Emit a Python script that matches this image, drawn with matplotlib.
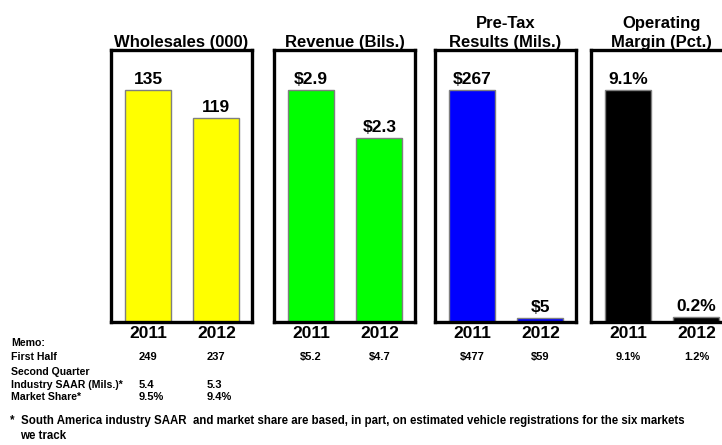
import matplotlib.pyplot as plt

plt.rcParams['font.family'] = ['Liberation Sans', 'DejaVu Sans']
plt.rcParams['font.weight'] = 'bold'

years = ['2011', '2012']
titles = ['Wholesales (000)', 'Revenue (Bils.)', 'Pre-Tax\nResults (Mils.)',
          'Operating\nMargin (Pct.)']
colors = ['#ffff00', '#00ff00', '#0000ff', '#000000']
values = [[135, 119], [2.9, 2.3], [267, 5], [9.1, 0.2]]
value_labels = [['135', '119'], ['$2.9', '$2.3'], ['$267', '$5'], ['9.1%', '0.2%']]
first_half = [['249', '237'], ['$5.2', '$4.7'], ['$477', '$59'], ['9.1%', '1.2%']]
saar = ['5.4', '5.3']
market_share = ['9.5%', '9.4%']

W, H = 722, 445
fig = plt.figure(figsize=(W / 100, H / 100), dpi=100)

panel_left = [111, 274, 435, 591]
panel_w = 141
top, bottom = 50, 322
narrow = ['Liberation Sans Narrow', 'Liberation Sans', 'DejaVu Sans']

for i in range(4):
    ax = fig.add_axes([panel_left[i] / W, 1 - bottom / H,
                       panel_w / W, (bottom - top) / H])
    ax.bar([0, 1], values[i], width=0.67, color=colors[i],
           edgecolor='#7f7f7f', linewidth=1, zorder=2)
    ax.set_xlim(-0.54, 1.52)
    ax.set_ylim(0, max(values[i]) * 1.173)
    for x, v, lab in zip([0, 1], values[i], value_labels[i]):
        ax.annotate(lab, (x, v), xytext=(0, 2), textcoords='offset points',
                    ha='center', va='bottom', fontsize=12.5, fontweight='bold')
    ax.set_xticks([0, 1])
    ax.set_xticklabels(years, fontsize=12.5, fontweight='bold')
    ax.tick_params(axis='x', length=0, pad=3)
    ax.set_yticks([])
    for s in ax.spines.values():
        s.set_linewidth(2.4)
        s.set_color('black')
    ax.set_title(titles[i], fontsize=12, fontweight='bold', pad=2,
                 linespacing=1.3)
    # first half memo row
    for x, lab in zip([0, 1], first_half[i]):
        ax.annotate(lab, (x, 0), xycoords=('data', 'axes fraction'),
                    xytext=(0, -(357 - bottom) / 1.389),
                    textcoords='offset points', ha='center', va='center',
                    fontsize=8, fontweight='bold', family=narrow)
    if i == 0:
        for x, a, b in zip([0, 1], saar, market_share):
            ax.annotate(a, (x, 0), xycoords=('data', 'axes fraction'),
                        xytext=(-7, -(385 - bottom) / 1.389),
                        textcoords='offset points', ha='left', va='center',
                        fontsize=8, fontweight='bold', family=narrow)
            ax.annotate(b, (x, 0), xycoords=('data', 'axes fraction'),
                        xytext=(-7, -(397 - bottom) / 1.389),
                        textcoords='offset points', ha='left', va='center',
                        fontsize=8, fontweight='bold', family=narrow)

memo = [('Memo:', 343), ('First Half', 357), ('Second Quarter', 372),
        ('Industry SAAR (Mils.)*', 385), ('Market Share*', 397)]
for txt, y in memo:
    fig.text(11 / W, 1 - y / H, txt, ha='left', va='center', fontsize=7.6,
             fontweight='bold')

fig.text(10 / W, 1 - 421 / H,
         '*  South America industry SAAR  and market share are based, in part, '
         'on estimated vehicle registrations for the six markets',
         ha='left', va='center', fontsize=8.3, fontweight='bold')
fig.text(20 / W, 1 - 436 / H, 'we track', ha='left', va='center',
         fontsize=8.3, fontweight='bold')

fig.savefig('out.png', dpi=100)
